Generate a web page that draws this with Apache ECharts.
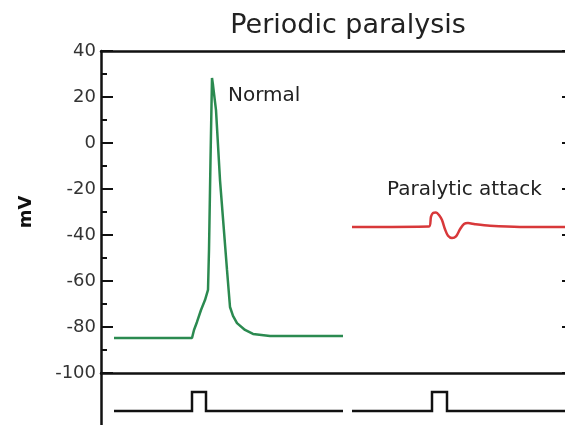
<!DOCTYPE html>
<html>
<head>
<meta charset="utf-8">
<script src="https://cdn.jsdelivr.net/npm/echarts@6/dist/echarts.min.js"></script>
<style>html,body{margin:0;padding:0;background:#fff}#c{width:565px;height:425px}</style>
</head>
<body>
<div id="c"></div>
<script>
// ---- data (time in ms, membrane potential in mV) ----
const titleText = 'Periodic paralysis';
const yName = 'mV';
const yMin = -100, yMax = 40, yStep = 20, yMinorStep = 10;
const timeMax = 94.6;

const normalLabel = 'Normal';
const normalTime = [2.6, 18.2, 18.6, 19.2, 20.0, 20.8, 21.4, 21.6, 21.9, 22.2, 22.4, 23.0, 23.8, 25.2, 25.8, 26.4, 27.2, 28.8, 30.4, 33.8, 48.4];
const normalMv   = [-84.8, -84.8, -81.3, -77.8, -72.6, -68.3, -63.9, -46.5, -7.4, 28.3, 25.2, 14.3, -16.1, -55.2, -71.3, -75.2, -78.3, -81.3, -83.0, -83.9, -83.9];

const attackLabel = 'Paralytic attack';
const attackTime = [50.2, 65.6, 66.0, 66.4, 67.0, 67.6, 68.2, 68.8, 69.4, 70.2, 71.0, 71.8, 72.6, 73.4, 74.8, 77.8, 83.8, 94.6];
const attackMv   = [-36.5, -36.3, -32.0, -30.4, -30.2, -31.3, -33.5, -37.5, -40.3, -41.3, -40.6, -37.5, -35.2, -34.8, -35.3, -36.0, -36.5, -36.5];

const stim1Time = [2.6, 18.2, 18.2, 21.0, 21.0, 48.4];
const stim1Val  = [0, 0, 1, 1, 0, 0];
const stim2Time = [50.2, 66.2, 66.2, 69.2, 69.2, 94.6];
const stim2Val  = [0, 0, 1, 1, 0, 0];

const zip = (a, b) => a.map((v, i) => [v, b[i]]);
const FONT = 'DejaVu Sans';
const AX = { color: '#111', width: 2.5 };
const TK = { color: '#111', width: 2 };

const chart = echarts.init(document.getElementById('c'), null, { renderer: 'canvas' });
chart.setOption({
  animation: false,
  backgroundColor: '#fff',
  title: {
    text: titleText, left: 348, textAlign: 'center', top: 12, padding: 0,
    textStyle: { fontFamily: FONT, fontSize: 27, fontWeight: 'normal', color: '#222' }
  },
  grid: [
    { left: 101, right: -9, top: 51, height: 322, containLabel: false, outerBoundsMode: 'none' },
    { left: 101, right: -9, top: 373, height: 57, containLabel: false, outerBoundsMode: 'none' }
  ],
  xAxis: [
    { type: 'value', gridIndex: 0, min: 0, max: timeMax, position: 'bottom',
      axisLine: { show: true, onZero: false, lineStyle: AX }, axisTick: { show: false },
      axisLabel: { show: false }, splitLine: { show: false } },
    { type: 'value', gridIndex: 0, min: 0, max: timeMax, position: 'top',
      axisLine: { show: true, onZero: false, lineStyle: AX }, axisTick: { show: false },
      axisLabel: { show: false }, splitLine: { show: false } },
    { type: 'value', gridIndex: 1, min: 0, max: timeMax, show: false }
  ],
  yAxis: [
    // main left axis: line, labels, name
    { type: 'value', gridIndex: 0, min: yMin, max: yMax, interval: yStep, position: 'left',
      name: yName, nameLocation: 'middle', nameGap: 66,
      nameTextStyle: { fontFamily: FONT, fontSize: 18, fontWeight: 'bold', color: '#111' },
      axisLine: { show: true, onZero: false, lineStyle: AX },
      axisTick: { show: false },
      axisLabel: { fontFamily: FONT, fontSize: 18, color: '#333', margin: 5 },
      splitLine: { show: false } },
    // right axis of the second panel (mostly outside the picture)
    { type: 'value', gridIndex: 0, min: yMin, max: yMax, interval: yStep, position: 'right',
      axisLine: { show: true, onZero: false, lineStyle: AX },
      axisTick: { show: true, inside: true, length: 12, lineStyle: TK },
      axisLabel: { show: false }, splitLine: { show: false } },
    // stimulus panel axis
    { type: 'value', gridIndex: 1, min: -1, max: 2, position: 'left',
      axisLine: { show: true, onZero: false, lineStyle: AX }, axisTick: { show: false },
      axisLabel: { show: false }, splitLine: { show: false } },
    // left minor ticks (every 10 mV)
    { type: 'value', gridIndex: 0, min: yMin, max: yMax, interval: yMinorStep, position: 'left', offset: 0,
      axisLine: { show: false }, axisLabel: { show: false }, splitLine: { show: false },
      axisTick: { show: true, inside: true, length: 6, lineStyle: TK } },
    // left major ticks (every 20 mV)
    { type: 'value', gridIndex: 0, min: yMin, max: yMax, interval: yStep, position: 'left', offset: 0,
      axisLine: { show: false }, axisLabel: { show: false }, splitLine: { show: false },
      axisTick: { show: true, inside: true, length: 12, lineStyle: TK } }
  ],
  series: [
    { type: 'line', xAxisIndex: 0, yAxisIndex: 0, data: zip(normalTime, normalMv),
      showSymbol: false, lineStyle: { color: '#2b8a50', width: 2.5 }, z: 3 },
    { type: 'line', xAxisIndex: 0, yAxisIndex: 0, data: zip(attackTime, attackMv),
      showSymbol: false, smooth: 0.3, lineStyle: { color: '#d8383a', width: 2.5 }, z: 3 },
    { type: 'line', xAxisIndex: 2, yAxisIndex: 2, data: zip(stim1Time, stim1Val),
      showSymbol: false, lineStyle: { color: '#111', width: 2.5, join: 'miter' } },
    { type: 'line', xAxisIndex: 2, yAxisIndex: 2, data: zip(stim2Time, stim2Val),
      showSymbol: false, lineStyle: { color: '#111', width: 2.5, join: 'miter' } }
  ],
  graphic: [
    { type: 'text', left: 228, top: 86, style: { text: normalLabel, font: '20px "DejaVu Sans"', fill: '#222' } },
    { type: 'text', left: 387, top: 180, style: { text: attackLabel, font: '20px "DejaVu Sans"', fill: '#222' } }
  ]
});
</script>
</body>
</html>
